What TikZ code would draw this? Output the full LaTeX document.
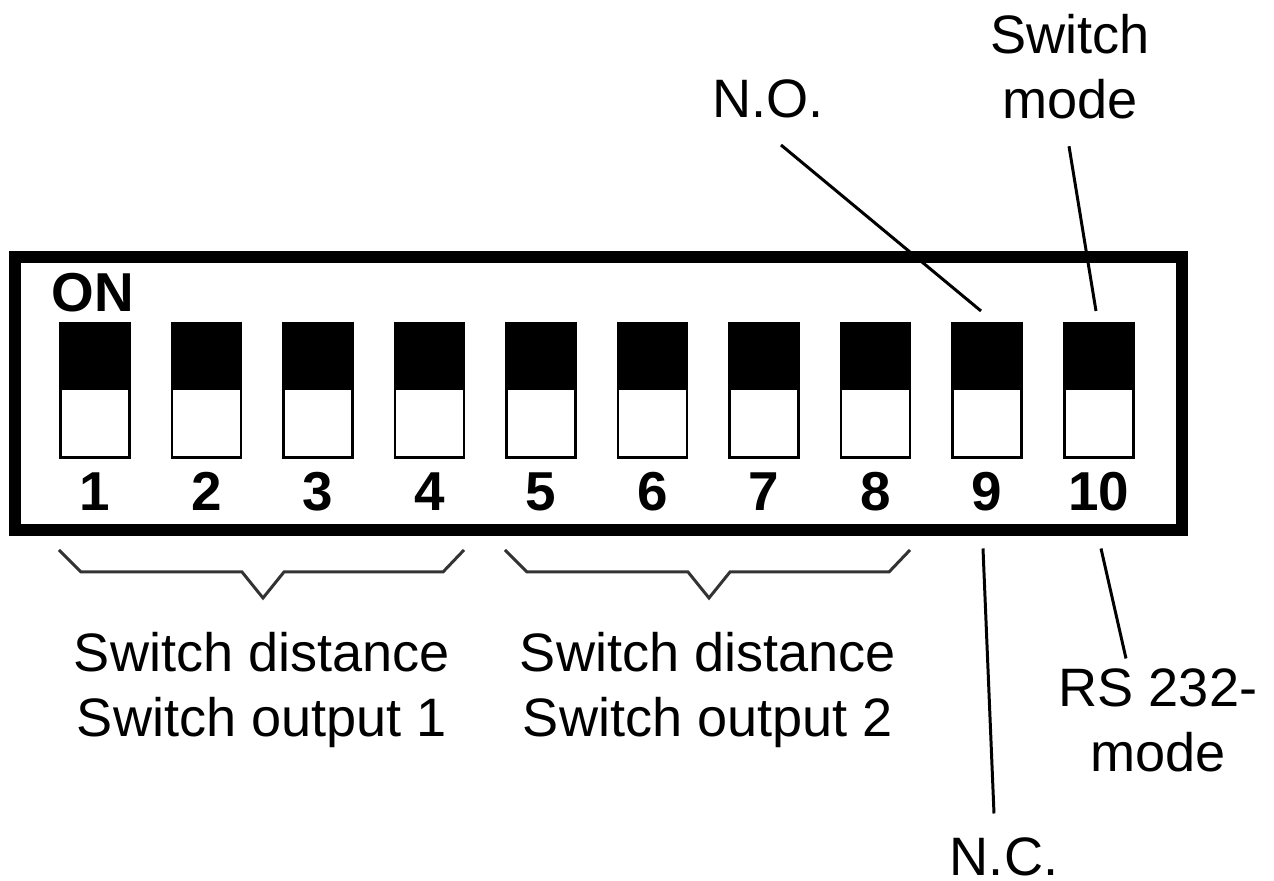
\documentclass[tikz,border=0pt]{standalone}
\usepackage{fontspec}
\setmainfont{Liberation Sans}
\usetikzlibrary{calc}

\begin{document}
\begin{tikzpicture}[
    x=0.1mm, y=-0.1mm,
    lbl/.style={font=\fontsize{15.4}{18.5}\selectfont, inner sep=0pt,
      align=center},
    num/.style={font=\fontsize{15.6}{18.5}\selectfont\bfseries,
      inner sep=0pt, anchor=base},
    swbody/.style={draw, line width=0.85pt, fill=white, minimum width=6.9mm,
      minimum height=13.4mm, inner sep=0pt, outer sep=0pt},
    frm/.style={draw, line width=3.4pt, minimum width=116.7mm,
      minimum height=27.3mm, inner sep=0pt, outer sep=0pt},
    lead/.style={line width=0.85pt},
    brc/.style={line width=0.85pt, black!80}
  ]
  \useasboundingbox (0,0) rectangle (1274,881);

  % Housing
  \node[frm] (dip) at (598.5,393.5) {};
  \node[num, anchor=base west] (on) at (51,312) {ON};

  % Switches, knob up
  \foreach \i in {1,...,10} {
    \pgfmathsetmacro\xx{95+(\i-1)*111.5}
    \node[swbody] (sw\i) at (\xx,390.5) {};
    \fill (sw\i.north west) rectangle (sw\i.east);
    \node[num] (n\i) at (\xx,511) {\i};
  }

  % Braces under the groups
  \foreach \dx in {0,446} {
    \draw[brc, shift={(\dx,0)}] (59,550) -- (81,572) -- (242,572)
      -- (263,598) -- (284,572) -- (443,572) -- (464,550);
  }

  % Group labels (base = last line)
  \node[lbl, anchor=base] (grp1) at (262,737)
    {Switch distance\\Switch output 1};
  \node[lbl, anchor=base] (grp2) at (708,737)
    {Switch distance\\Switch output 2};

  % Function labels
  \node[lbl, anchor=base] (no) at (768,118) {N.O.};
  \node[lbl, anchor=base] (mode) at (1070,119) {Switch\\mode};
  \node[lbl, anchor=base] (nc) at (1004,876) {N.C.};
  \node[lbl, anchor=base] (rs) at (1158,772) {RS 232-\\mode};

  % Leader lines
  \draw[lead] ([shift={(13,27)}]no.base) -- ([shift={(-6,-12.5)}]sw9.north);
  \draw[lead] ([shift={(-1,26)}]mode.south) -- ([shift={(-2.5,-12.5)}]sw10.north);
  \draw[lead] ([shift={(-4,91)}]sw9.south) -- ([shift={(-10,-24)}]nc.north);
  \draw[lead] ([shift={(2.5,91)}]sw10.south) -- ([shift={(-32,-10)}]rs.north);
\end{tikzpicture}
\end{document}
